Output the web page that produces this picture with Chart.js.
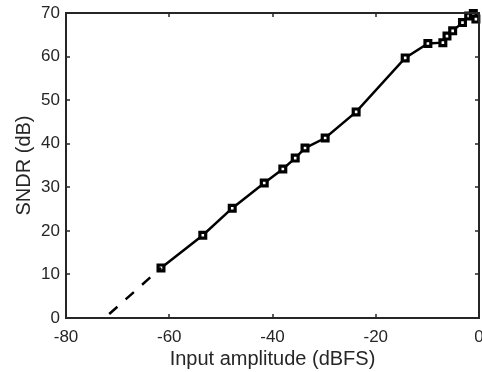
<!DOCTYPE html>
<html>
<head>
<meta charset="utf-8">
<script src="https://cdn.jsdelivr.net/npm/chart.js@4.4.0/dist/chart.umd.min.js"></script>
<style>
html,body{margin:0;padding:0;background:#fff;}
#wrap{width:482px;height:372px;position:relative;}
</style>
</head>
<body>
<div id="wrap"><canvas id="c" width="482" height="372"></canvas></div>
<script>
// Measured SNDR vs input amplitude
const inputAmplitude = [-61.6, -53.5, -47.8, -41.6, -38.0, -35.6, -33.7, -29.8, -23.8, -14.3, -9.9, -7.0, -6.2, -5.1, -3.2, -2.0, -1.1, -0.6];
const sndr           = [11.5, 19.0, 25.2, 31.0, 34.2, 36.7, 39.0, 41.3, 47.3, 59.7, 63.0, 63.2, 64.7, 65.9, 67.8, 69.3, 69.9, 68.6];
// Extrapolated (dashed) segment
const extrapAmplitude = [-72.5, -61.6];
const extrapSndr      = [0, 11.5];
const xTicks = [-80, -60, -40, -20, 0];
const yTicks = [0, 10, 20, 30, 40, 50, 60, 70];

const toXY = (xs, ys) => xs.map((x, i) => ({x: x, y: ys[i]}));
const FONT = "'Liberation Sans', Arial, Helvetica, sans-serif";
const AXC = '#262626';

const boxPlugin = {
  id: 'boxTicks',
  afterDatasetsDraw(chart) {
    const {ctx, chartArea: a, scales} = chart;
    ctx.save();
    ctx.strokeStyle = AXC;
    ctx.lineWidth = 1.5;
    const L = 4;
    ctx.beginPath();
    xTicks.forEach(v => {
      const px = Math.round(scales.x.getPixelForValue(v));
      ctx.moveTo(px, a.bottom); ctx.lineTo(px, a.bottom - L);
      ctx.moveTo(px, a.top); ctx.lineTo(px, a.top + L);
    });
    yTicks.forEach(v => {
      const py = Math.round(scales.y.getPixelForValue(v));
      ctx.moveTo(a.left, py); ctx.lineTo(a.left + L, py);
      ctx.moveTo(a.right, py); ctx.lineTo(a.right - L, py);
    });
    ctx.stroke();
    ctx.lineWidth = 2;
    ctx.strokeRect(a.left, a.top, a.right - a.left, a.bottom - a.top);
    ctx.restore();
  }
};

new Chart(document.getElementById('c'), {
  type: 'scatter',
  data: {
    datasets: [
      {
        data: toXY(extrapAmplitude, extrapSndr),
        showLine: true,
        borderColor: '#000',
        borderWidth: 2.5,
        borderDash: [11, 11],
        borderDashOffset: 16,
        borderCapStyle: 'butt',
        pointRadius: 0,
        clip: false
      },
      {
        data: toXY(inputAmplitude, sndr),
        showLine: true,
        borderColor: '#000',
        borderWidth: 2.5,
        pointStyle: 'rect',
        pointRadius: 4.1,
        pointBorderWidth: 3.2,
        pointBorderColor: '#000',
        pointBackgroundColor: '#fff',
        clip: false
      }
    ]
  },
  options: {
    responsive: false,
    animation: false,
    devicePixelRatio: 1,
    layout: {autoPadding: false, padding: {top: 13, right: 3, left: 0, bottom: 0}},
    plugins: {legend: {display: false}, tooltip: {enabled: false}},
    scales: {
      x: {
        type: 'linear', min: -80, max: 0,
        afterBuildTicks: s => { s.ticks = xTicks.map(v => ({value: v})); },
        afterFit: s => { s.height = 54; s.paddingLeft = 0; s.paddingRight = 0; },
        grid: {display: false, drawTicks: false},
        border: {display: false},
        ticks: {color: '#262626', font: {family: FONT, size: 17}, padding: 9, maxRotation: 0},
        title: {display: true, text: 'Input amplitude (dBFS)', color: '#262626', font: {family: FONT, size: 20}, padding: {top: 0, bottom: 1}}
      },
      y: {
        type: 'linear', min: 0, max: 70,
        afterBuildTicks: s => { s.ticks = yTicks.map(v => ({value: v})); },
        afterFit: s => { s.width = 66; s.paddingTop = 0; s.paddingBottom = 0; },
        grid: {display: false, drawTicks: false},
        border: {display: false},
        ticks: {color: '#262626', font: {family: FONT, size: 17}, padding: 6},
        title: {display: true, text: 'SNDR (dB)', color: '#262626', font: {family: FONT, size: 20}, padding: {top: 12, bottom: 0}}
      }
    }
  },
  plugins: [boxPlugin]
});
</script>
</body>
</html>
